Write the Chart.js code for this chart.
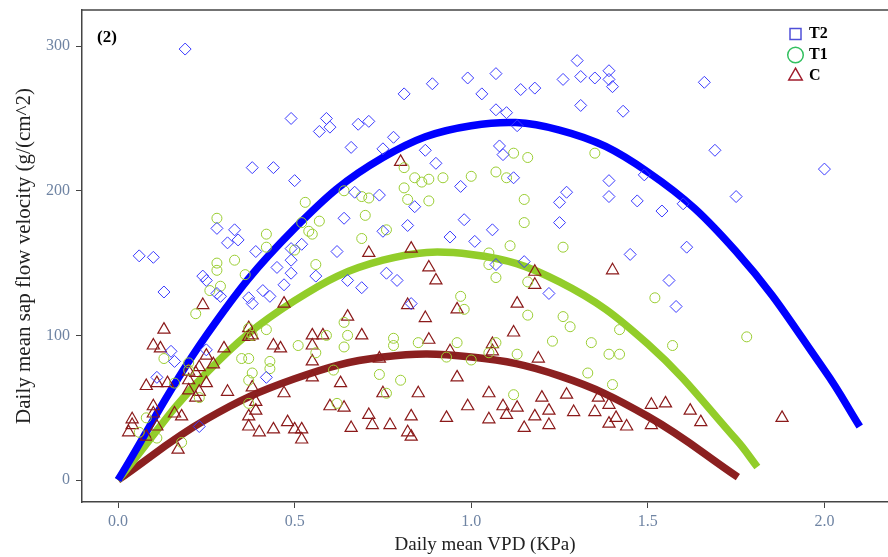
<!DOCTYPE html>
<html>
<head>
<meta charset="utf-8">
<script src="https://cdn.jsdelivr.net/npm/chart.js@4.4.1/dist/chart.umd.min.js"></script>
<style>
  html, body { margin: 0; padding: 0; background: #fff; }
  #wrap { width: 888px; height: 557px; position: relative; }
</style>
</head>
<body>
<div id="wrap"><canvas id="myChart"></canvas></div>
<script>
const t2X = [0.19, 0.49, 0.38, 0.44, 0.50, 0.59, 0.60, 0.57, 0.68, 0.71, 0.81, 0.89, 0.99, 1.07, 1.03, 1.14, 1.18, 1.26, 1.30, 1.31,
    1.35, 1.39, 1.39, 1.40, 1.31, 1.07, 1.10, 1.13, 0.78, 0.66, 0.75, 0.87, 0.90, 1.08, 1.09, 0.97, 1.12, 1.27, 1.25, 0.67,
    0.74, 0.84, 0.64, 0.75, 0.82, 0.98, 1.06, 1.25, 0.94, 1.01, 0.52, 1.66, 1.43, 1.69, 2.00, 1.39, 1.39, 1.47, 1.54, 1.60,
    1.75, 1.61, 1.45, 1.56, 1.58, 0.28, 0.33, 0.34, 0.31, 0.39, 0.06, 0.10, 0.24, 0.25, 0.13, 0.28, 0.29, 0.37, 0.38, 0.45,
    0.49, 0.41, 0.47, 0.43, 0.42, 0.15, 0.11, 0.23, 0.49, 0.62, 0.49, 0.56, 0.65, 0.69, 0.76, 0.79, 0.83, 1.15, 1.07, 1.22,
    1.49, 0.16, 0.25];
const t2Y = [298, 250, 216, 216, 207, 250, 244, 241, 246, 248, 267, 274, 278, 281, 267, 270, 271, 277, 290, 279,
    278, 283, 277, 272, 259, 256, 254, 245, 237, 230, 229, 228, 219, 231, 225, 203, 209, 199, 192, 199,
    197, 189, 181, 172, 176, 180, 173, 178, 168, 165, 163, 275, 255, 228, 215, 207, 196, 193, 186, 191,
    196, 161, 156, 138, 120, 174, 173, 166, 164, 158, 155, 154, 141, 138, 130, 129, 127, 126, 122, 147,
    143, 131, 135, 127, 71, 89, 71, 37, 160, 158, 152, 141, 138, 133, 143, 138, 122, 151, 149, 129,
    211, 82, 90];

const t1X = [0.28, 0.42, 0.33, 0.28, 0.28, 0.29, 0.26, 0.36, 0.22, 0.23, 0.18, 0.13, 0.20, 0.35, 0.37, 0.43, 0.43, 0.38, 0.37, 0.42,
    0.51, 0.50, 0.16, 0.37, 0.08, 0.06, 0.37, 0.38, 0.20, 0.11, 0.81, 0.84, 0.81, 0.82, 0.64, 0.69, 0.71, 0.53, 0.70, 0.52,
    0.57, 0.54, 0.55, 0.42, 0.76, 0.69, 0.56, 0.59, 0.64, 0.65, 0.64, 0.56, 0.61, 0.78, 0.78, 0.85, 0.74, 0.80, 0.76, 0.62,
    1.11, 1.26, 1.05, 1.07, 1.16, 0.97, 0.98, 1.16, 1.26, 1.28, 0.96, 1.13, 1.23, 1.00, 0.93, 1.12, 0.86, 0.88, 0.92, 1.00,
    1.07, 1.10, 1.12, 1.16, 1.15, 1.15, 0.88, 1.05, 1.07, 1.34, 1.33, 1.35, 1.52, 1.42, 1.39, 1.42, 1.57, 1.78, 1.40, 1.05];
const t1Y = [181, 170, 152, 150, 145, 134, 131, 142, 115, 57, 26, 84, 76, 84, 84, 82, 77, 74, 69, 104,
    93, 159, 67, 53, 43, 33, 105, 100, 81, 29, 216, 209, 202, 194, 200, 196, 195, 192, 183, 178,
    179, 172, 170, 161, 173, 167, 149, 100, 109, 100, 92, 88, 76, 98, 93, 95, 73, 69, 60, 53,
    162, 161, 157, 140, 137, 127, 118, 114, 113, 106, 95, 87, 96, 83, 85, 59, 206, 208, 209, 210,
    213, 209, 226, 223, 194, 178, 193, 149, 95, 95, 74, 226, 126, 104, 87, 87, 93, 99, 66, 88];

const cX = [0.80, 0.71, 0.83, 0.88, 0.90, 1.18, 1.18, 1.13, 0.96, 0.82, 0.87, 0.65, 0.55, 0.58, 0.69, 0.55, 0.88, 1.06, 1.06, 1.12,
    1.19, 0.94, 0.74, 0.55, 0.46, 0.55, 0.63, 0.96, 0.47, 0.75, 0.85, 1.05, 1.20, 1.27, 0.60, 0.64, 0.71, 0.83, 0.93, 0.99,
    1.09, 1.13, 1.18, 1.22, 1.29, 1.05, 0.48, 0.50, 0.52, 0.52, 0.66, 0.72, 0.77, 0.82, 0.83, 1.15, 1.22, 0.13, 0.10, 0.12,
    0.08, 0.11, 0.14, 0.04, 0.04, 0.03, 0.10, 0.10, 0.11, 0.17, 0.16, 0.18, 0.24, 0.25, 0.23, 0.27, 0.30, 0.20, 0.20, 0.22,
    0.25, 0.20, 0.23, 0.31, 0.37, 0.37, 0.38, 0.44, 0.47, 0.38, 0.39, 0.39, 0.37, 0.37, 0.40, 0.44, 0.08, 1.40, 1.36, 1.39,
    1.35, 1.39, 1.41, 1.44, 1.51, 1.55, 1.51, 1.62, 1.65, 1.88, 1.10, 0.22];
const cY = [220, 157, 160, 147, 138, 144, 135, 122, 118, 121, 112, 113, 100, 100, 100, 93, 97, 94, 89, 102,
    84, 89, 84, 82, 91, 71, 67, 71, 60, 60, 60, 60, 57, 59, 51, 50, 45, 44, 43, 51,
    51, 50, 44, 48, 47, 42, 40, 35, 35, 28, 36, 38, 38, 33, 30, 36, 38, 104, 93, 91,
    65, 67, 67, 42, 38, 33, 51, 46, 37, 21, 46, 44, 121, 86, 78, 80, 91, 75, 69, 74,
    67, 62, 61, 61, 105, 99, 100, 93, 122, 64, 54, 48, 44, 37, 33, 35, 30, 145, 57, 52,
    47, 39, 43, 37, 52, 53, 38, 48, 40, 43, 45, 57];

// fitted curves
const fitT2X = [0, 0.25, 0.5, 0.75, 1.0, 1.25, 1.5, 1.75, 2.0, 2.1];
const fitT2Y = [0, 100, 174, 223, 245, 242, 213, 158, 76, 37];
const fitT1X = [0, 0.25, 0.5, 0.75, 1.0, 1.25, 1.5, 1.75, 1.81];
const fitT1Y = [0, 74, 124, 152, 156, 137, 94, 28, 9];
const fitCX = [0, 0.25, 0.5, 0.75, 1.0, 1.25, 1.5, 1.755];
const fitCY = [0, 42, 70, 85, 85, 72, 44, 2];

const seriesNames = ['T2', 'T1', 'C'];
const xTicks = [0, 0.5, 1.0, 1.5, 2.0];
const yTicks = [0, 100, 200, 300];
const panelLabel = '(2)';

const pointColors = ['#3a3aff', '#9acd32', '#8b1a1a'];
const lineColors = ['#0000ff', '#92cd2a', '#8b2020'];
const legendColors = ['#4f4fd8', '#33c060', '#a01c2c'];
const legendStyles = ['rect', 'circle', 'triangle'];
const tickColor = '#6f84a3';
const serif = '"Liberation Serif", "Times New Roman", serif';

function toPoints(xs, ys) {
    return xs.map((x, i) => ({ x: x, y: ys[i] }));
}

function noPadding(scale) {
    scale.paddingLeft = 0;
    scale.paddingRight = 0;
    scale.paddingTop = 0;
    scale.paddingBottom = 0;
}

const panelPlugin = {
    id: 'panel',
    beforeDraw(chart) {
        const lg = chart.legend;
        const w = lg.width, h = lg.height;
        lg.left = 785; lg.right = 785 + w;
        lg.top = 21; lg.bottom = 21 + h;
    },
    afterDraw(chart) {
        const ctx = chart.ctx;
        const a = chart.chartArea;
        ctx.save();
        ctx.strokeStyle = '#444';
        ctx.lineWidth = 1.5;
        ctx.beginPath();
        ctx.moveTo(a.left, a.top);
        ctx.lineTo(a.right, a.top);
        ctx.stroke();
        ctx.font = 'bold 17px ' + serif;
        ctx.fillStyle = '#000';
        ctx.textBaseline = 'middle';
        ctx.fillText(panelLabel, a.left + 15, a.top + 28);
        ctx.restore();
    }
};

const ctx = document.getElementById('myChart').getContext('2d');
const chart = new Chart(ctx, {
    type: 'scatter',
    data: {
        datasets: [
            { label: 'T2', data: toPoints(t2X, t2Y), pointStyle: 'rectRot', pointRadius: 6, borderColor: pointColors[0], backgroundColor: 'rgba(0,0,0,0)', borderWidth: 1, order: 0 },
            { label: 'T1', data: toPoints(t1X, t1Y), pointStyle: 'circle', pointRadius: 5, borderColor: pointColors[1], backgroundColor: 'rgba(0,0,0,0)', borderWidth: 1, order: 0 },
            { label: 'C', data: toPoints(cX, cY), pointStyle: 'triangle', pointRadius: 7, borderColor: pointColors[2], backgroundColor: 'rgba(0,0,0,0)', borderWidth: 1.2, order: 0 },
            { label: 'T2 fit', data: toPoints(fitT2X, fitT2Y), showLine: true, pointRadius: 0, borderColor: lineColors[0], borderWidth: 7.5, tension: 0.4, order: 1 },
            { label: 'T1 fit', data: toPoints(fitT1X, fitT1Y), showLine: true, pointRadius: 0, borderColor: lineColors[1], borderWidth: 7.5, tension: 0.4, order: 1 },
            { label: 'C fit', data: toPoints(fitCX, fitCY), showLine: true, pointRadius: 0, borderColor: lineColors[2], borderWidth: 7.5, tension: 0.4, order: 1 }
        ]
    },
    options: {
        responsive: true,
        maintainAspectRatio: false,
        devicePixelRatio: 1,
        animation: false,
        events: [],
        layout: { autoPadding: false, padding: { top: 10, right: 0, bottom: 0, left: 0 } },
        plugins: {
            tooltip: { enabled: false },
            legend: {
                position: 'chartArea',
                align: 'start',
                labels: {
                    usePointStyle: true,
                    boxWidth: 11,
                    boxHeight: 11,
                    padding: 5,
                    color: '#000',
                    font: { family: serif, size: 16, weight: 'bold' },
                    generateLabels: function(chart) {
                        return seriesNames.map((name, i) => ({
                            text: name,
                            pointStyle: legendStyles[i],
                            strokeStyle: legendColors[i],
                            fillStyle: 'rgba(0,0,0,0)',
                            lineWidth: 1.5,
                            datasetIndex: i,
                            hidden: false
                        }));
                    }
                }
            }
        },
        scales: {
            x: {
                type: 'linear',
                min: -0.102,
                max: 2.18,
                afterFit: function(scale) { scale.height = 55; noPadding(scale); },
                afterBuildTicks: function(scale) { scale.ticks = xTicks.map(v => ({ value: v })); },
                grid: { drawOnChartArea: false, drawTicks: true, tickLength: 6, tickColor: '#444', tickWidth: 1 },
                border: { display: true, color: '#444', width: 1.5 },
                ticks: {
                    autoSkip: false,
                    maxRotation: 0,
                    padding: 4,
                    color: tickColor,
                    font: { family: serif, size: 16 },
                    callback: function(value) { return Number(value).toFixed(1); }
                },
                title: {
                    display: true,
                    text: 'Daily mean VPD (KPa)',
                    color: '#222',
                    font: { family: serif, size: 19 },
                    padding: { top: 0, bottom: 1 }
                }
            },
            y: {
                type: 'linear',
                min: -15.2,
                max: 325,
                afterFit: function(scale) { scale.width = 82; noPadding(scale); },
                afterBuildTicks: function(scale) { scale.ticks = yTicks.map(v => ({ value: v })); },
                grid: { drawOnChartArea: false, drawTicks: true, tickLength: 6, tickColor: '#444', tickWidth: 1 },
                border: { display: true, color: '#444', width: 1.5 },
                ticks: {
                    autoSkip: false,
                    padding: 6,
                    color: tickColor,
                    font: { family: serif, size: 16 }
                },
                title: {
                    display: true,
                    text: 'Daily mean sap flow velocity (g/(cm^2)',
                    color: '#222',
                    font: { family: serif, size: 21 },
                    padding: { top: 12, bottom: 0 }
                }
            }
        }
    },
    plugins: [panelPlugin]
});
</script>
</body>
</html>
